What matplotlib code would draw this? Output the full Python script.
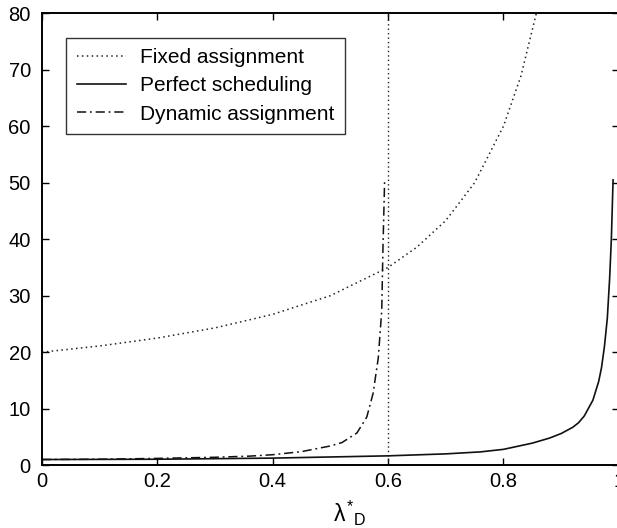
import matplotlib
matplotlib.use("Agg")
from matplotlib import pyplot as plt

plt.rcParams['font.family'] = ['Liberation Sans', 'DejaVu Sans']
plt.rcParams['mathtext.fontset'] = 'custom'
plt.rcParams['mathtext.rm'] = 'Liberation Sans'
plt.rcParams['mathtext.it'] = 'Liberation Sans'

# values
fixed_x = [0, 0.1, 0.2, 0.3, 0.4, 0.5, 0.6, 0.65, 0.7, 0.75, 0.8, 0.83, 0.857]
fixed_y = [20, 21.1, 22.5, 24.3, 26.7, 30, 35, 38.6, 43.3, 50, 60, 68.8, 80]

perfect_x = [0, 0.2, 0.4, 0.6, 0.7, 0.76, 0.8, 0.85, 0.88, 0.9, 0.92, 0.93, 0.94,
             0.955, 0.965, 0.97, 0.975, 0.98, 0.984, 0.987, 0.99]
perfect_y = [1.0, 1.05, 1.25, 1.65, 2.0, 2.35, 2.8, 3.9, 4.8, 5.6, 6.7, 7.5, 8.7,
             11.5, 14.8, 17.3, 21, 26, 33, 40, 50.5]

dynamic_x = [0, 0.1, 0.2, 0.3, 0.36, 0.4, 0.45, 0.5, 0.52, 0.546, 0.563, 0.574,
             0.583, 0.589, 0.591, 0.594]
dynamic_y = [1.0, 1.05, 1.2, 1.4, 1.6, 1.85, 2.4, 3.4, 4.0, 5.7, 8.5, 12.7,
             19, 27.4, 38, 50.5]

threshold_x = 0.6
x_ticks = [0, 0.2, 0.4, 0.6, 0.8, 1]
y_ticks = [0, 10, 20, 30, 40, 50, 60, 70, 80]

fig = plt.figure(figsize=(6.17, 5.28), dpi=100)
ax = fig.add_axes([0.068, 0.119, 0.935, 0.856])

ax.plot(fixed_x, fixed_y, color='#222222', linewidth=1.1, dashes=(1, 2.2),
        label='Fixed assignment')
ax.plot(perfect_x, perfect_y, color='#111111', linewidth=1.2, label='Perfect scheduling')
ax.plot(dynamic_x, dynamic_y, color='#111111', linewidth=1.1, dashes=(6, 2.5, 1.2, 2.5),
        label='Dynamic assignment')
ax.axvline(threshold_x, color='#222222', linewidth=1.0, dashes=(1, 2.2))

ax.set_xlim(0, 1)
ax.set_ylim(0, 80)
ax.set_xticks(x_ticks)
ax.set_xticklabels(['0', '0.2', '0.4', '0.6', '0.8', '1'])
ax.set_yticks(y_ticks)
ax.tick_params(direction='in', length=5, width=1, top=True, right=True,
               labelsize=14.5)
ax.tick_params(axis='x', pad=5)
ax.tick_params(axis='y', pad=8)
for s in ax.spines.values():
    s.set_linewidth(1.4)

ax.set_xlabel(r'$\lambda^{*}{}_{D}$', fontsize=16.5)
ax.xaxis.set_label_coords(0.533, -0.075)

leg = ax.legend(loc='upper left', bbox_to_anchor=(0.042, 0.946), borderaxespad=0,
                fontsize=15, fancybox=False, frameon=True, handlelength=2.35,
                handletextpad=0.7, labelspacing=0.45, borderpad=0.5)
leg.get_frame().set_edgecolor('black')
leg.get_frame().set_linewidth(1.0)

plt.savefig('out.png', dpi=100)
